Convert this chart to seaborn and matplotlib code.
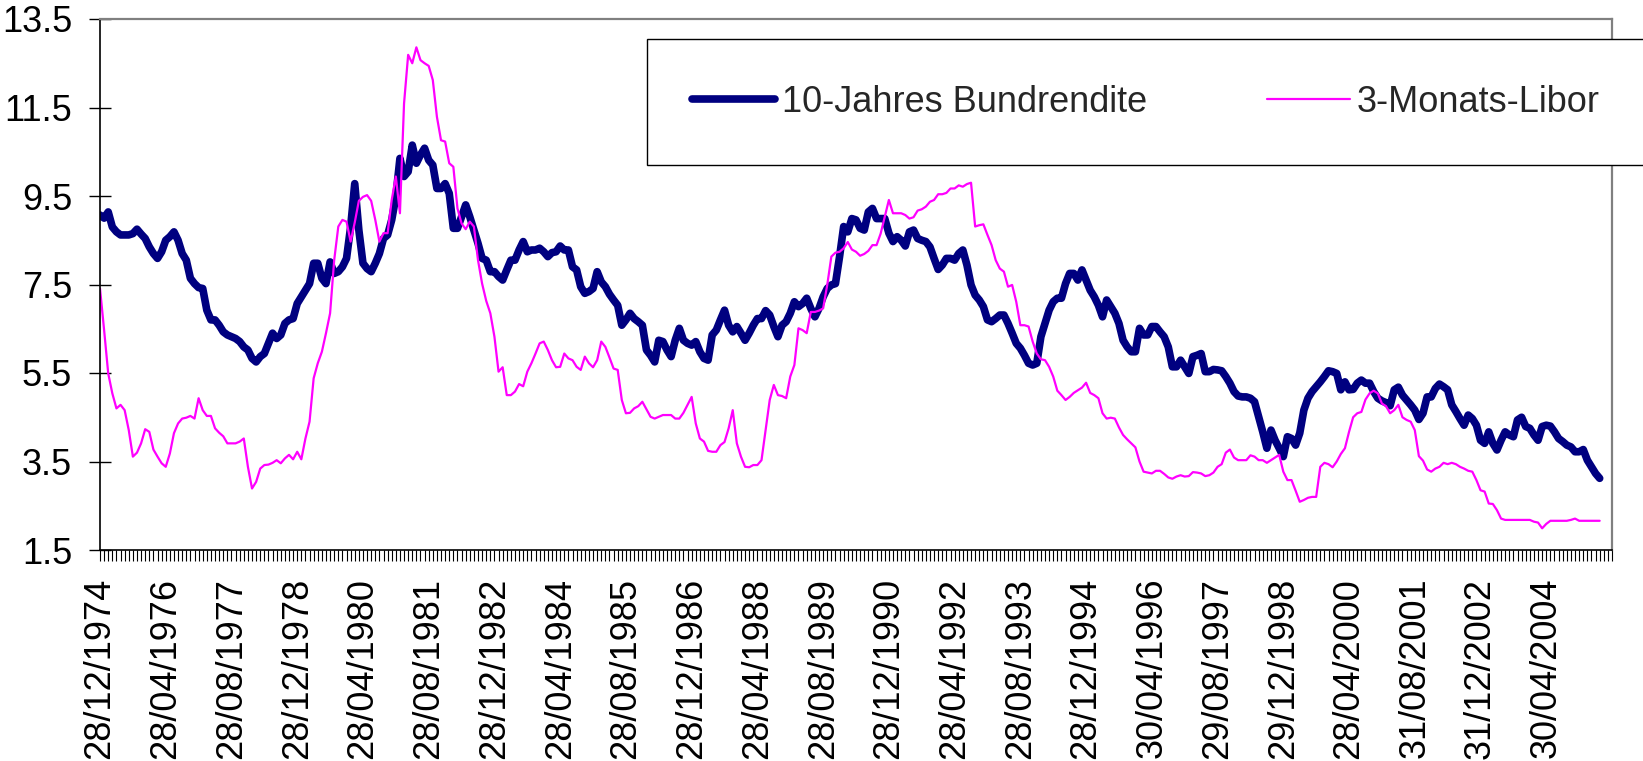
import numpy as np
import pandas as pd
import matplotlib
matplotlib.use("Agg")
import matplotlib.pyplot as plt
import seaborn as sns

# ---------------- data (monthly, Dec 1974 onwards) ----------------
bund_10j = [
    9.07, 9.00, 9.14, 8.80, 8.69, 8.62, 8.62, 8.62, 8.65, 8.75,
    8.64, 8.54, 8.35, 8.20, 8.09, 8.24, 8.50, 8.58, 8.69, 8.50,
    8.20, 8.05, 7.64, 7.52, 7.43, 7.41, 6.92, 6.70, 6.70, 6.58,
    6.43, 6.36, 6.32, 6.28, 6.21, 6.09, 6.02, 5.83, 5.75, 5.87,
    5.94, 6.17, 6.40, 6.28, 6.36, 6.62, 6.70, 6.73, 7.07, 7.22,
    7.37, 7.52, 7.98, 7.98, 7.64, 7.52, 8.01, 7.75, 7.79, 7.90,
    8.09, 8.80, 9.78, 8.73, 7.98, 7.86, 7.79, 7.98, 8.20, 8.54,
    8.62, 8.96, 9.48, 10.35, 9.94, 10.05, 10.65, 10.24, 10.43, 10.58,
    10.31, 10.20, 9.67, 9.67, 9.78, 9.56, 8.77, 8.77, 9.03, 9.30,
    9.03, 8.73, 8.43, 8.09, 8.05, 7.79, 7.79, 7.68, 7.60, 7.83,
    8.05, 8.05, 8.28, 8.47, 8.24, 8.28, 8.28, 8.32, 8.24, 8.13,
    8.22, 8.24, 8.37, 8.28, 8.28, 7.90, 7.83, 7.45, 7.30, 7.34,
    7.41, 7.79, 7.56, 7.45, 7.28, 7.15, 7.03, 6.58, 6.70, 6.85,
    6.73, 6.66, 6.58, 6.02, 5.90, 5.75, 6.24, 6.21, 6.02, 5.87,
    6.24, 6.51, 6.24, 6.17, 6.13, 6.21, 5.98, 5.83, 5.79, 6.36,
    6.47, 6.70, 6.92, 6.58, 6.43, 6.55, 6.40, 6.24, 6.40, 6.58,
    6.73, 6.73, 6.91, 6.81, 6.55, 6.32, 6.58, 6.66, 6.85, 7.11,
    7.00, 7.07, 7.19, 6.96, 6.77, 6.96, 7.22, 7.41, 7.49, 7.52,
    8.13, 8.81, 8.69, 8.99, 8.96, 8.77, 8.73, 9.14, 9.22, 8.99,
    8.99, 8.99, 8.66, 8.47, 8.58, 8.50, 8.37, 8.69, 8.73, 8.54,
    8.50, 8.47, 8.35, 8.09, 7.84, 7.94, 8.09, 8.09, 8.05, 8.20,
    8.28, 7.94, 7.49, 7.26, 7.15, 7.00, 6.70, 6.66, 6.73, 6.81,
    6.81, 6.62, 6.40, 6.17, 6.06, 5.90, 5.72, 5.68, 5.72, 6.32,
    6.62, 6.92, 7.11, 7.19, 7.19, 7.52, 7.75, 7.75, 7.60, 7.83,
    7.60, 7.37, 7.22, 7.03, 6.77, 7.15, 7.00, 6.85, 6.62, 6.24,
    6.09, 5.98, 5.98, 6.51, 6.36, 6.36, 6.55, 6.55, 6.43, 6.32,
    6.09, 5.64, 5.64, 5.79, 5.64, 5.49, 5.87, 5.90, 5.94, 5.53,
    5.53, 5.58, 5.57, 5.55, 5.42, 5.27, 5.08, 4.98, 4.96, 4.96,
    4.93, 4.85, 4.51, 4.17, 3.80, 4.21, 3.98, 3.80, 3.61, 4.06,
    4.02, 3.87, 4.14, 4.66, 4.93, 5.08, 5.19, 5.30, 5.42, 5.55,
    5.53, 5.49, 5.12, 5.30, 5.12, 5.13, 5.27, 5.34, 5.27, 5.27,
    5.08, 4.93, 4.87, 4.83, 4.76, 5.12, 5.18, 5.00, 4.89, 4.78,
    4.66, 4.45, 4.59, 4.96, 4.96, 5.15, 5.25, 5.19, 5.12, 4.78,
    4.63, 4.47, 4.32, 4.55, 4.47, 4.32, 3.98, 3.91, 4.17, 3.91,
    3.76, 3.98, 4.17, 4.10, 4.06, 4.44, 4.50, 4.29, 4.25, 4.10,
    3.98, 4.29, 4.32, 4.30, 4.17, 4.02, 3.95, 3.87, 3.83, 3.72,
    3.72, 3.77, 3.53, 3.38, 3.23, 3.12,
]

libor_3m = [
    7.41, 6.47, 5.49, 5.04, 4.70, 4.78, 4.66, 4.21, 3.61, 3.70,
    3.91, 4.23, 4.17, 3.77, 3.61, 3.46, 3.38, 3.68, 4.14, 4.36,
    4.47, 4.49, 4.53, 4.47, 4.93, 4.66, 4.53, 4.53, 4.25, 4.15,
    4.07, 3.91, 3.91, 3.91, 3.95, 4.02, 3.38, 2.89, 3.04, 3.34,
    3.42, 3.43, 3.47, 3.53, 3.46, 3.57, 3.65, 3.55, 3.72, 3.55,
    4.02, 4.40, 5.38, 5.72, 5.98, 6.40, 6.85, 8.05, 8.81, 8.96,
    8.92, 8.47, 8.90, 9.39, 9.48, 9.52, 9.39, 8.96, 8.47, 8.66,
    8.66, 9.41, 9.94, 9.11, 11.59, 12.69, 12.50, 12.86, 12.57, 12.50,
    12.44, 12.12, 11.29, 10.76, 10.73, 10.24, 10.16, 9.22, 8.88, 8.75,
    8.92, 8.81, 8.05, 7.52, 7.13, 6.85, 6.32, 5.53, 5.63, 5.00,
    5.00, 5.08, 5.25, 5.20, 5.53, 5.72, 5.94, 6.17, 6.21, 6.02,
    5.79, 5.63, 5.64, 5.94, 5.83, 5.79, 5.64, 5.57, 5.87, 5.72,
    5.63, 5.79, 6.21, 6.09, 5.85, 5.60, 5.57, 4.89, 4.59, 4.60,
    4.70, 4.75, 4.85, 4.68, 4.51, 4.47, 4.51, 4.55, 4.55, 4.55,
    4.47, 4.47, 4.60, 4.78, 4.96, 4.36, 4.02, 3.95, 3.74, 3.72,
    3.72, 3.87, 3.94, 4.25, 4.66, 3.91, 3.61, 3.38, 3.37, 3.42,
    3.42, 3.53, 4.21, 4.89, 5.23, 5.00, 4.98, 4.93, 5.42, 5.68,
    6.51, 6.47, 6.40, 6.88, 6.88, 6.91, 6.96, 7.49, 8.13, 8.22,
    8.24, 8.32, 8.46, 8.29, 8.24, 8.15, 8.19, 8.26, 8.39, 8.39,
    8.65, 9.03, 9.41, 9.11, 9.11, 9.11, 9.07, 8.99, 9.02, 9.17,
    9.20, 9.26, 9.37, 9.41, 9.54, 9.54, 9.57, 9.67, 9.67, 9.74,
    9.71, 9.77, 9.80, 8.81, 8.84, 8.86, 8.62, 8.39, 8.05, 7.86,
    7.79, 7.45, 7.49, 7.11, 6.58, 6.58, 6.55, 6.21, 5.94, 5.81,
    5.79, 5.64, 5.42, 5.10, 5.00, 4.89, 4.96, 5.05, 5.11, 5.17,
    5.28, 5.05, 5.00, 4.93, 4.59, 4.47, 4.49, 4.47, 4.27, 4.10,
    4.00, 3.91, 3.82, 3.50, 3.27, 3.25, 3.23, 3.29, 3.29, 3.22,
    3.14, 3.11, 3.16, 3.19, 3.16, 3.17, 3.26, 3.25, 3.23, 3.17,
    3.19, 3.25, 3.38, 3.44, 3.70, 3.77, 3.59, 3.53, 3.53, 3.53,
    3.64, 3.61, 3.53, 3.53, 3.47, 3.53, 3.59, 3.65, 3.27, 3.08,
    3.08, 2.84, 2.59, 2.63, 2.68, 2.70, 2.70, 3.38, 3.47, 3.44,
    3.37, 3.50, 3.67, 3.80, 4.17, 4.50, 4.59, 4.62, 4.90, 5.04,
    5.10, 5.04, 4.81, 4.75, 4.59, 4.66, 4.78, 4.50, 4.44, 4.40,
    4.21, 3.62, 3.52, 3.32, 3.27, 3.34, 3.38, 3.47, 3.44, 3.47,
    3.44, 3.38, 3.34, 3.29, 3.27, 3.08, 2.85, 2.82, 2.55, 2.54,
    2.40, 2.21, 2.18, 2.18, 2.18, 2.18, 2.18, 2.18, 2.18, 2.14,
    2.12, 1.99, 2.09, 2.16, 2.16, 2.16, 2.16, 2.16, 2.18, 2.21,
    2.16, 2.16, 2.16, 2.16, 2.16, 2.16,
]

tick_labels = [
    "28/12/1974", "28/04/1976", "28/08/1977", "28/12/1978", "28/04/1980",
    "28/08/1981", "28/12/1982", "28/04/1984", "28/08/1985", "28/12/1986",
    "28/04/1988", "28/08/1989", "28/12/1990", "28/04/1992", "28/08/1993",
    "28/12/1994", "30/04/1996", "29/08/1997", "29/12/1998", "28/04/2000",
    "31/08/2001", "31/12/2002", "30/04/2004",
]
series_names = ["10-Jahres Bundrendite", "3-Monats-Libor"]
y_ticks = [1.5, 3.5, 5.5, 7.5, 9.5, 11.5, 13.5]

n_cat = 369          # monthly categories on the axis
label_every = 16     # one date label every 16 months

# ---------------- plotting ----------------
sns.set_style("white")
plt.rcParams["font.family"] = ["Liberation Sans", "DejaVu Sans"]

df = pd.DataFrame({
    "monat": np.arange(len(bund_10j)),
    series_names[0]: bund_10j,
    series_names[1]: libor_3m,
})

W, H = 1643, 761
fig = plt.figure(figsize=(W / 100, H / 100), dpi=100)
ax = fig.add_axes([100 / W, (H - 550) / H, 1512 / W, 531 / H])

sns.lineplot(data=df, x="monat", y=series_names[0], ax=ax, color="#000080",
             linewidth=5.5, solid_capstyle="round", solid_joinstyle="round",
             label=series_names[0], legend=False)
sns.lineplot(data=df, x="monat", y=series_names[1], ax=ax, color="#FF00FF",
             linewidth=1.6, label=series_names[1], legend=False)

ax.set_xlim(0, n_cat - 1)
ax.set_ylim(y_ticks[0], y_ticks[-1])
ax.set_xlabel("")
ax.set_ylabel("")

ax.set_yticks(y_ticks)
ax.set_yticklabels([f"{v:.1f}" for v in y_ticks])
ax.tick_params(axis="y", direction="inout", length=16, width=1.0,
               pad=12, labelsize=26, colors="black", left=True)

major_pos = [i * label_every for i in range(len(tick_labels))]
ax.set_xticks(major_pos)
ax.set_xticklabels(tick_labels, rotation=90)
ax.set_xticks(np.arange(n_cat), minor=True)
ax.tick_params(axis="x", which="both", direction="out", length=8, width=0.8,
               colors="black", bottom=True)
ax.tick_params(axis="x", which="major", pad=12, labelsize=26)

for side in ["left", "bottom"]:
    ax.spines[side].set_color("black")
    ax.spines[side].set_linewidth(1.2)
for side in ["top", "right"]:
    ax.spines[side].set_color("#808080")
    ax.spines[side].set_linewidth(1.6)
ax.grid(False)

handles = ax.get_lines()[:2]
leg = fig.legend(handles, series_names, loc="center left",
                 bbox_to_anchor=(647 / W, (H - 102) / H),
                 bbox_transform=fig.transFigure, ncol=2, fontsize=26,
                 frameon=True, fancybox=False, framealpha=1,
                 edgecolor="black", borderpad=1.25, borderaxespad=0,
                 handlelength=2.3, handletextpad=0.2, columnspacing=3.3)
leg.get_frame().set_linewidth(1.0)

fig.savefig("out.png", dpi=100)
